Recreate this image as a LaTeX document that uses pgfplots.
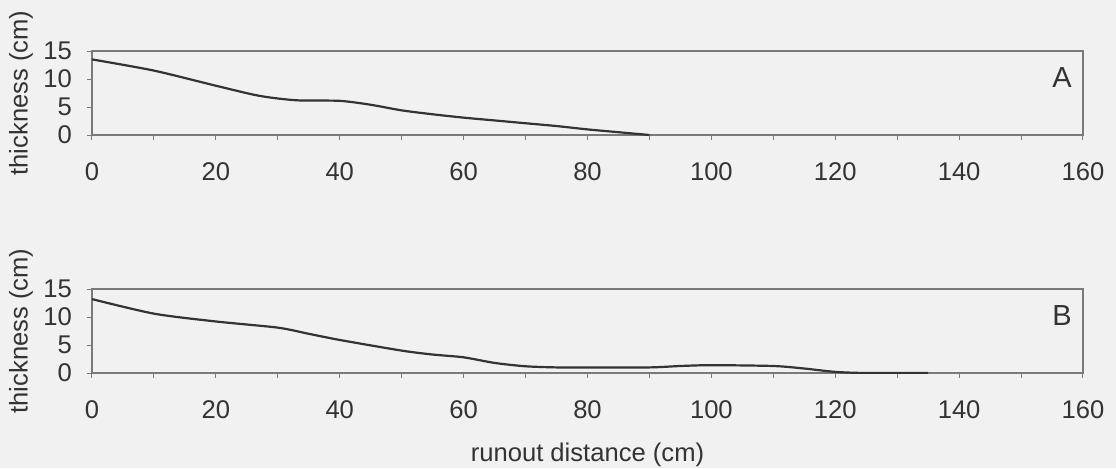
\documentclass[border=0pt]{standalone}
\usepackage{pgfplots}
\pgfplotsset{compat=1.18}
\usepackage{fontspec}
\setmainfont{Liberation Sans}

\definecolor{ink}{HTML}{333333}
\definecolor{frame}{HTML}{7A7A7A}
\definecolor{paper}{HTML}{F1F1F1}

\pgfplotsset{
  panel/.style={
    scale only axis,
    width=495.5pt, height=42pt,
    anchor=south west,
    xmin=0, xmax=160, ymin=0, ymax=15,
    xtick={0,20,...,160}, minor xtick={10,30,...,150},
    ytick={0,5,10,15},
    tick align=outside,
    major tick length=2.5pt, minor tick length=2.5pt,
    every tick/.style={frame, line width=0.5pt},
    axis line style={frame, line width=0.9pt},
    xtick pos=bottom, ytick pos=left,
    /pgf/number format/assume math mode=true,
    tick label style={font=\fontsize{12.8}{15}\selectfont, text=ink},
    xticklabel style={anchor=center, yshift=-16pt},
    yticklabel style={anchor=east, xshift=-4pt},
    ylabel={thickness (cm)},
    ylabel style={font=\fontsize{12.8}{15}\selectfont, text=ink,
      at={(axis description cs:-0.0717,0.5)}, anchor=center},
  },
  curve/.style={ink, line width=1.1pt, smooth, tension=0.45},
}

\begin{document}
\begin{tikzpicture}
\path[use as bounding box, fill=paper] (0,0) rectangle (558pt,234pt);

\begin{axis}[panel, at={(46pt,166.5pt)}]
\addplot[curve] coordinates {
  (0,13.5) (10,11.5) (20,8.8) (27,7.0) (33,6.2) (40,6.1)
  (45,5.4) (50,4.4) (55,3.7) (60,3.1) (65,2.6) (70,2.1) (75,1.6)
  (80,1.0) (85,0.5) (90,0)
};
\node[font=\fontsize{14.5}{17}\selectfont, text=ink] at (axis cs:156.6,10.2) {A};
\end{axis}

\begin{axis}[panel, at={(46pt,47.5pt)},
  xlabel={runout distance (cm)},
  xlabel style={font=\fontsize{12.8}{15}\selectfont, text=ink,
    at={(axis description cs:0.5,-0.976)}, anchor=center}]
\addplot[curve] coordinates {
  (0,13.2) (10,10.6) (20,9.2) (30,8.1) (35,7.0) (40,5.9)
  (50,4.0) (55,3.3) (60,2.8) (65,1.8) (70,1.2) (75,1.0) (80,1.0)
  (90,1.0) (95,1.25) (100,1.4) (110,1.25) (115,0.8) (120,0.2)
  (125,0) (135,0)
};
\node[font=\fontsize{14.5}{17}\selectfont, text=ink] at (axis cs:156.6,10.2) {B};
\end{axis}
\end{tikzpicture}
\end{document}
